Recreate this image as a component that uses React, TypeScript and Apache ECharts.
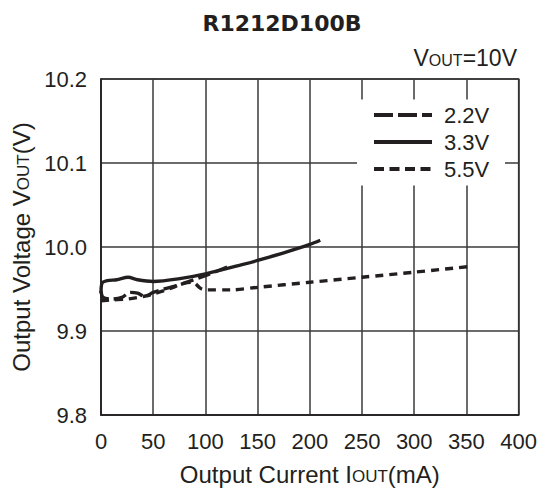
import React, { useEffect, useRef } from "react";
import * as echarts from "echarts";

const seriesNames = ["2.2V", "3.3V", "5.5V"];
const i22 = [0, 2, 10, 20, 28, 35, 42, 50, 75, 100, 125];
const v22 = [9.948, 9.94, 9.938, 9.94, 9.946, 9.945, 9.941, 9.946, 9.955, 9.966, 9.978];
const i33 = [0, 1, 6, 15, 26, 35, 50, 74, 100, 135, 150, 175, 200, 210];
const v33 = [9.945, 9.957, 9.96, 9.961, 9.964, 9.961, 9.959, 9.962, 9.968, 9.979, 9.984, 9.993, 10.003, 10.008];
const i55 = [0, 10, 25, 40, 50, 65, 80, 88, 95, 100, 125, 150, 200, 250, 300, 355];
const v55 = [9.936, 9.937, 9.938, 9.941, 9.944, 9.95, 9.957, 9.958, 9.951, 9.949, 9.949, 9.952, 9.958, 9.964, 9.97, 9.977];

const xMin = 0, xMax = 400, xStep = 50;
const yMin = 9.8, yMax = 10.2, yStep = 0.1;

const FONT = "'Liberation Sans', Arial, sans-serif";
const INK = "#231f20";

function pairs(xs: number[], ys: number[]) {
  return xs.map((x, i) => [x, ys[i]]);
}

const subRich = (size: number) => ({
  s: { fontFamily: FONT, fontSize: size, color: INK, verticalAlign: "bottom", padding: [0, 0, 1, 0] },
});

export default function App() {
  const ref = useRef<HTMLDivElement>(null);
  useEffect(() => {
    if (!ref.current) return;
    const chart = echarts.init(ref.current, null, { renderer: "svg" });
    const mk = (name: string, data: number[][], type: any) => ({
      name,
      type: "line",
      data,
      symbol: "none",
      smooth: 0.3,
      lineStyle: { color: INK, width: 3.4, type },
      itemStyle: { color: INK },
      z: 5,
    });
    chart.setOption({
      animation: false,
      backgroundColor: "#ffffff",
      title: {
        text: "R1212D100B",
        left: 277,
        top: 7,
        textAlign: "center",
        textStyle: { fontFamily: "'DejaVu Sans', sans-serif", fontSize: 22, fontWeight: "bold", color: INK },
      },
      grid: {
        left: 101,
        right: 21,
        top: 79,
        bottom: 75,
        show: true,
        borderColor: INK,
        borderWidth: 1.5,
        backgroundColor: "transparent",
      },
      xAxis: {
        type: "value",
        min: xMin,
        max: xMax,
        interval: xStep,
        name: "Output Current I{s|OUT}(mA)",
        nameLocation: "middle",
        nameGap: 47,
        nameTextStyle: { fontFamily: FONT, fontSize: 24, color: INK, rich: subRich(17) },
        axisLine: { show: true, lineStyle: { color: INK, width: 1.5 } },
        axisTick: { show: false },
        splitLine: { show: true, lineStyle: { color: "#3a3a3a", width: 1.5 } },
        axisLabel: { fontFamily: FONT, fontSize: 22, color: INK, margin: 15 },
      },
      yAxis: {
        type: "value",
        min: yMin,
        max: yMax,
        interval: yStep,
        name: "Output Voltage V{s|OUT}(V)",
        nameLocation: "middle",
        nameGap: 68,
        nameTextStyle: { fontFamily: FONT, fontSize: 24, color: INK, rich: subRich(17) },
        axisLine: { show: true, lineStyle: { color: INK, width: 1.5 } },
        axisTick: { show: false },
        splitLine: { show: true, lineStyle: { color: "#3a3a3a", width: 1.5 } },
        axisLabel: {
          fontFamily: FONT,
          fontSize: 22,
          color: INK,
          margin: 14,
          formatter: (v: number) => v.toFixed(1),
        },
      },
      legend: {
        orient: "vertical",
        left: 372,
        top: 104,
        itemWidth: 58,
        itemHeight: 14,
        itemGap: 5,
        padding: 0,
        itemStyle: { color: "rgba(0,0,0,0)", borderWidth: 0, opacity: 0 },
        data: [
          { name: seriesNames[0], lineStyle: { width: 4, type: [19, 5] } },
          { name: seriesNames[1], lineStyle: { width: 4 } },
          { name: seriesNames[2], lineStyle: { width: 4, type: [10, 5.5] } },
        ],
        textStyle: { fontFamily: FONT, fontSize: 22, color: INK, lineHeight: 22, padding: [0, 0, 0, 7] },
        z: 6,
      },
      graphic: [
        {
          type: "rect",
          shape: { x: 357, y: 99.5, width: 148, height: 86 },
          style: { fill: "#ffffff" },
          z: 4,
          silent: true,
        },
        {
          type: "text",
          right: 23,
          top: 46,
          z: 6,
          style: {
            text: "V{s|OUT}=10V",
            fontFamily: FONT,
            fontSize: 23,
            fill: INK,
            rich: { s: { fontFamily: FONT, fontSize: 16, fill: INK, verticalAlign: "bottom", padding: [0, 0, 1, 0] } },
          },
        },
      ],
      series: [
        mk(seriesNames[0], pairs(i22, v22), [13, 5]),
        mk(seriesNames[1], pairs(i33, v33), "solid"),
        mk(seriesNames[2], pairs(i55, v55), [8, 6]),
      ],
    });
    return () => chart.dispose();
  }, []);
  return (
    <div
      ref={ref}
      style={{ position: "fixed", left: 0, top: 0, width: 540, height: 491, background: "#fff" }}
    />
  );
}
